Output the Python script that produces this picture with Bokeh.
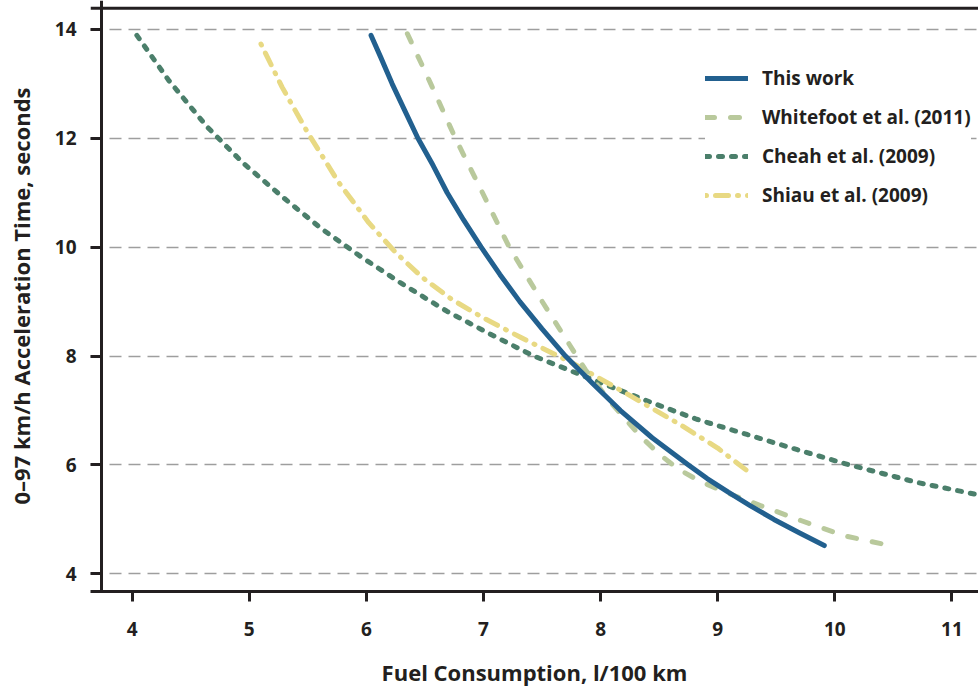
from bokeh.plotting import figure
from bokeh.models import Span, Legend, LegendItem, FixedTicker, Range1d
from bokeh.embed import file_html
from bokeh.resources import INLINE

# ---- data ----
this_work_x = [6.04, 6.12, 6.22, 6.33, 6.44, 6.57, 6.69, 6.83, 6.98, 7.14, 7.31, 7.50, 7.70, 7.93,
               8.17, 8.44, 8.75, 8.91, 9.09, 9.28, 9.48, 9.70, 9.91]
this_work_y = [13.89, 13.5, 13.0, 12.5, 12.0, 11.5, 11.0, 10.5, 10.0, 9.5, 9.0, 8.5, 8.0, 7.5,
               7.0, 6.5, 6.0, 5.75, 5.5, 5.25, 5.0, 4.75, 4.52]

whitefoot_x = [6.35, 6.55, 6.76, 6.98, 7.22, 7.49, 7.69, 7.87, 8.09, 8.33, 8.50, 8.66, 8.84, 9.03,
               9.37, 9.71, 10.08, 10.45]
whitefoot_y = [13.92, 13.0, 12.0, 11.05, 10.0, 9.04, 8.36, 7.75, 7.14, 6.55, 6.20, 5.93, 5.71, 5.53,
               5.25, 4.98, 4.70, 4.53]

cheah_x = [4.04, 4.31, 4.64, 4.95, 5.28, 5.61, 5.95, 6.31, 6.69, 7.06, 7.43, 8.00, 8.43, 8.82, 9.25,
           9.68, 10.11, 10.70, 11.23]
cheah_y = [13.89, 13.07, 12.21, 11.54, 10.93, 10.35, 9.83, 9.32, 8.82, 8.40, 8.00, 7.51, 7.15, 6.84, 6.56,
           6.28, 6.01, 5.68, 5.45]

shiau_x = [5.10, 5.28, 5.50, 5.76, 6.02, 6.25, 6.48, 6.73, 7.00, 7.32, 7.77, 8.23, 8.68, 9.00, 9.29]
shiau_y = [13.73, 12.94, 12.10, 11.20, 10.45, 9.90, 9.44, 9.04, 8.70, 8.34, 7.86, 7.30, 6.74, 6.31, 5.83]

x_ticks = [4, 5, 6, 7, 8, 9, 10, 11]
y_ticks = [4, 6, 8, 10, 12, 14]

labels = ["This work", "Whitefoot et al. (2011)", "Cheah et al. (2009)", "Shiau et al. (2009)"]

TEXT = "#231f20"
FONT = "Open Sans"

p = figure(width=978, height=689, output_backend="svg", toolbar_location=None,
           x_range=Range1d(3.644, 11.227), y_range=Range1d(3.676, 14.531),
           min_border_left=90, min_border_right=0, min_border_top=0, min_border_bottom=96)
p.outline_line_color = None
p.background_fill_color = "white"
p.border_fill_color = "white"

# grid
p.xgrid.visible = False
p.ygrid.grid_line_color = "#9e9e9e"
p.ygrid.grid_line_width = 1.5
p.ygrid.grid_line_dash = "12 7"

# axes
p.xaxis.ticker = FixedTicker(ticks=x_ticks)
p.yaxis.ticker = FixedTicker(ticks=y_ticks)
for ax in (p.xaxis, p.yaxis):
    ax.minor_tick_line_color = None
    ax.major_tick_line_width = 3
    ax.major_tick_line_color = TEXT
    ax.axis_line_color = TEXT
    ax.axis_line_width = 3
    ax.major_label_text_font = FONT
    ax.major_label_text_font_style = "bold"
    ax.major_label_text_font_size = "19px"
    ax.major_label_text_color = TEXT
    ax.axis_label_text_font = FONT
    ax.axis_label_text_font_style = "bold"
    ax.axis_label_text_font_size = "22px"
    ax.axis_label_text_color = TEXT

p.xaxis.axis_label = "Fuel Consumption, l/100 km"
p.xaxis.major_tick_out = 10
p.xaxis.major_tick_in = 0
p.xaxis.major_label_standoff = 20
p.xaxis.axis_label_standoff = 18

p.yaxis.axis_label = "0\u201397 km/h Acceleration Time, seconds"
p.yaxis.axis_line_color = None
p.yaxis.major_tick_out = 0
p.yaxis.major_tick_in = 11
p.yaxis.major_label_standoff = 14
p.yaxis.axis_label_standoff = 16

# frame lines (left axis line and top border)
p.add_layout(Span(location=3.738, dimension="height", line_color=TEXT, line_width=3))
p.add_layout(Span(location=14.39, dimension="width", line_color=TEXT, line_width=3))

# series
r_cheah = p.line(cheah_x, cheah_y, line_color="#4b7f6b", line_width=5, line_dash="4 9", line_cap="round", line_join="round")
r_shiau = p.line(shiau_x, shiau_y, line_color="#e8d983", line_width=5, line_dash="1 9 13 9", line_cap="round", line_join="round")
r_white = p.line(whitefoot_x, whitefoot_y, line_color="#b9c99c", line_width=5, line_dash="9 16", line_cap="round", line_join="round")
r_this = p.line(this_work_x, this_work_y, line_color="#22608f", line_width=5, line_cap="round", line_join="round")

legend = Legend(items=[LegendItem(label=labels[0], renderers=[r_this]),
                       LegendItem(label=labels[1], renderers=[r_white]),
                       LegendItem(label=labels[2], renderers=[r_cheah]),
                       LegendItem(label=labels[3], renderers=[r_shiau])],
                location=(615, 383), padding=25, spacing=13, margin=0,
                glyph_width=43, glyph_height=26, label_height=26, label_standoff=14,
                background_fill_color="white", background_fill_alpha=1.0,
                border_line_color=None,
                label_text_font=FONT, label_text_font_style="bold",
                label_text_font_size="19px", label_text_color=TEXT)
p.add_layout(legend, "center")

open("out.html", "w").write(file_html(p, INLINE))
